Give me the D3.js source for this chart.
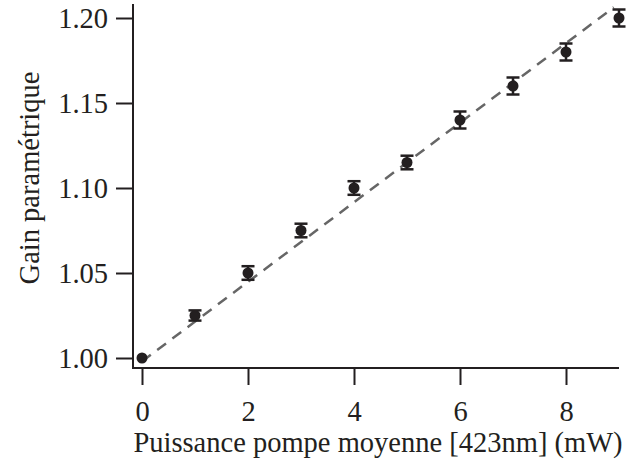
<!DOCTYPE html>
<html><head><meta charset="utf-8">
<script src="https://cdn.jsdelivr.net/npm/d3@7"></script>
<style>body{margin:0;background:#fff}svg{display:block}</style>
</head><body><svg id="c" width="628" height="466"></svg>
<script>
const power = [0,1,2,3,4,5,6,7,8,9];
const gain = [1.000,1.025,1.050,1.075,1.100,1.115,1.140,1.160,1.180,1.200];
const gainErr = [0.000,0.003,0.004,0.004,0.004,0.004,0.005,0.005,0.005,0.005];
const fitX = [0,8.9];
const fitIntercept = 0.998, fitSlope = 0.0234;
const xTicks = [0,2,4,6,8];
const yTicks = [1.00,1.05,1.10,1.15,1.20];

const FONT = "'Liberation Serif','Times New Roman',serif";
const FS = "28.5px";
const svg = d3.select("#c");
const x = d3.scaleLinear().domain([0,9]).range([142,619]);
const y = d3.scaleLinear().domain([1.0,1.2]).range([358,18]);
const ink = "#231f20";

svg.append("line").attr("x1",133).attr("x2",133).attr("y1",4).attr("y2",369).attr("stroke",ink).attr("stroke-width",2);
svg.append("line").attr("x1",132).attr("x2",619).attr("y1",368).attr("y2",368).attr("stroke",ink).attr("stroke-width",2);

const ya = d3.axisLeft(y).tickValues(yTicks).tickFormat(d3.format(".2f")).tickSize(17).tickPadding(8);
const gy = svg.append("g").attr("transform","translate(133,0)").call(ya);
gy.select(".domain").remove();
gy.selectAll("line").attr("stroke",ink).attr("stroke-width",2);
gy.selectAll("text").style("font-size",FS).style("font-family",FONT).attr("fill",ink).attr("dy","0.33em");

const xa = d3.axisBottom(x).tickValues(xTicks).tickFormat(d3.format("d")).tickSize(17).tickPadding(12);
const gx = svg.append("g").attr("transform","translate(0,368)").call(xa);
gx.select(".domain").remove();
gx.selectAll("line").attr("stroke",ink).attr("stroke-width",2);
gx.selectAll("text").style("font-size",FS).style("font-family",FONT).attr("fill",ink).attr("dy",null).attr("y",53);

svg.append("text").attr("x",378).attr("y",452).attr("text-anchor","middle")
  .style("font-size",FS).style("font-family",FONT).attr("fill",ink).text("Puissance pompe moyenne [423nm] (mW)");
svg.append("text").attr("transform","translate(39,178) rotate(-90)").attr("text-anchor","middle")
  .style("font-size",FS).style("font-family",FONT).attr("fill",ink).text("Gain paramétrique");

svg.append("line")
  .attr("x1",x(fitX[0])).attr("y1",y(fitIntercept+fitSlope*fitX[0]))
  .attr("x2",x(fitX[1])).attr("y2",y(fitIntercept+fitSlope*fitX[1]))
  .attr("stroke","#666").attr("stroke-width",2.5).attr("stroke-dasharray","11,8");

const data = power.map((p,i)=>({p,g:gain[i],e:gainErr[i]}));
const eb = svg.append("g").selectAll("g").data(data.filter(d=>d.e>0)).join("g").attr("stroke",ink).attr("stroke-width",2.5);
eb.append("line").attr("x1",d=>x(d.p)).attr("x2",d=>x(d.p)).attr("y1",d=>y(d.g-d.e)).attr("y2",d=>y(d.g+d.e));
eb.append("line").attr("x1",d=>x(d.p)-6.5).attr("x2",d=>x(d.p)+6.5).attr("y1",d=>y(d.g-d.e)).attr("y2",d=>y(d.g-d.e));
eb.append("line").attr("x1",d=>x(d.p)-6.5).attr("x2",d=>x(d.p)+6.5).attr("y1",d=>y(d.g+d.e)).attr("y2",d=>y(d.g+d.e));
svg.append("g").selectAll("circle").data(data).join("circle")
  .attr("cx",d=>x(d.p)).attr("cy",d=>y(d.g)).attr("r",5.5).attr("fill",ink);
</script></body></html>
